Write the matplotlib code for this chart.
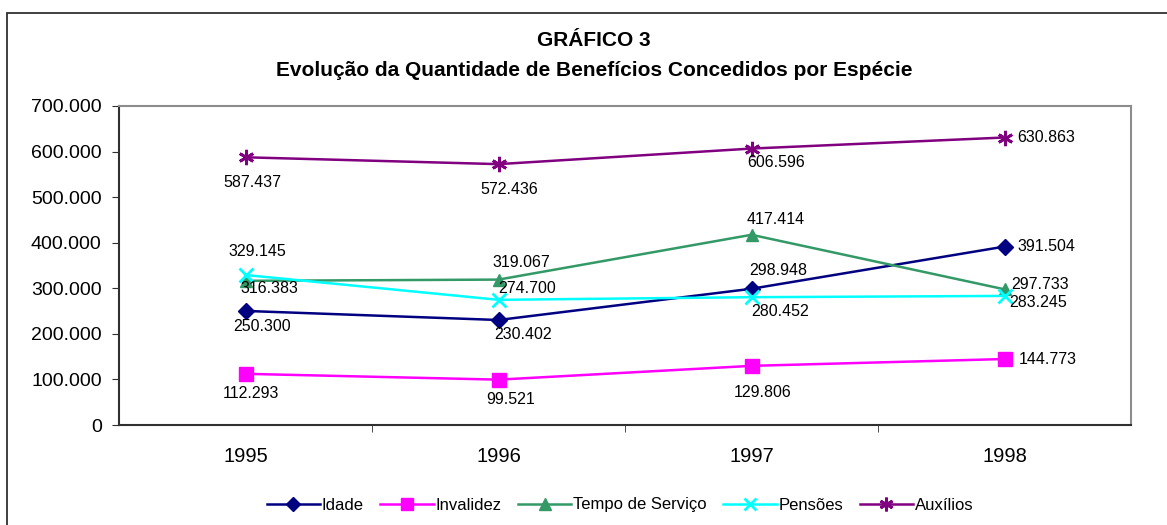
import matplotlib.pyplot as plt
from matplotlib.patches import Rectangle
from matplotlib.ticker import FuncFormatter, FixedLocator

years = ["1995", "1996", "1997", "1998"]
idade = [250300, 230402, 298948, 391504]
invalidez = [112293, 99521, 129806, 144773]
tempo_servico = [316383, 319067, 417414, 297733]
pensoes = [329145, 274700, 280452, 283245]
auxilios = [587437, 572436, 606596, 630863]

# label offsets in pixels from each marker (dx right, dy down)
series = [
    ("Idade", idade, "#000080", "D", 8,
     [(17, 16), (25, 14), (27, -18), (42, 0)]),
    ("Invalidez", invalidez, "#FF00FF", "s", 10,
     [(5, 20), (12, 20), (11, 27), (43, 0)]),
    ("Tempo de Serviço", tempo_servico, "#339966", "^", 9,
     [(24, 8), (23, -17), (24, -15), (36, -5)]),
    ("Pensões", pensoes, "#00FFFF", "x", 10,
     [(12, -24), (29, -11), (29, 14), (34, 7)]),
    ("Auxílios", auxilios, "#800080", (6, 2, 0), 11,
     [(7, 25), (11, 25), (25, 14), (42, 0)]),
]

plt.rcParams["font.family"] = ["Liberation Sans", "DejaVu Sans"]
narrow = ["Liberation Sans Narrow", "Liberation Sans", "DejaVu Sans"]

fig = plt.figure(figsize=(11.67, 5.25), dpi=100)
ax = fig.add_axes([119 / 1167, 1 - 425 / 525, (1131 - 119) / 1167, (425 - 106) / 525])

x = list(range(len(years)))
for name, vals, color, marker, ms, offs in series:
    ax.plot(x, vals, color=color, lw=1.8, marker=marker, ms=ms,
            mew=2 if marker in ("x",) or isinstance(marker, tuple) else 1,
            mfc=color, mec=color, label=name)
    for xi, v, (dx, dy) in zip(x, vals, offs):
        ax.annotate(f"{v:,}".replace(",", "."), (xi, v), xytext=(dx, -dy),
                    textcoords="offset pixels", ha="center", va="center",
                    fontsize=11.5, color="black")

ax.set_xlim(-0.5, len(years) - 0.5)
ax.set_ylim(0, 700000)
ax.set_yticks(range(0, 700001, 100000))
ax.yaxis.set_major_formatter(FuncFormatter(lambda v, p: f"{v:,.0f}".replace(",", ".")))
ax.set_xticks(x)
ax.set_xticklabels(years, family=narrow, fontsize=14.5)
ax.xaxis.set_minor_locator(FixedLocator([i + 0.5 for i in x[:-1]]))
ax.tick_params(axis="x", which="major", length=0, pad=16)
ax.tick_params(axis="x", which="minor", length=5, direction="out", color="#303030")
ax.tick_params(axis="y", length=5, direction="out", labelsize=14, color="#303030", pad=7.5)

for side in ("top", "right"):
    ax.spines[side].set_color("#8c8c8c")
    ax.spines[side].set_linewidth(1.5)
for side in ("left", "bottom"):
    ax.spines[side].set_color("#303030")
    ax.spines[side].set_linewidth(1.5)

fig.text(594 / 1167, 1 - 41 / 525, "GRÁFICO 3", ha="center", va="center",
         fontsize=15, fontweight="bold")
fig.text(594 / 1167, 1 - 71 / 525,
         "Evolução da Quantidade de Benefícios Concedidos por Espécie",
         ha="center", va="center", fontsize=15, fontweight="bold")

fig.legend(loc="center", bbox_to_anchor=(620 / 1167, 1 - 505 / 525), ncol=5,
           frameon=False, prop={"family": narrow, "size": 12},
           handlelength=3.2, handletextpad=0.1, columnspacing=1.0,
           markerscale=0.9)

fig.add_artist(Rectangle((7 / 1167, -0.1), 1.2, 0.1 + 1 - 13 / 525,
                         transform=fig.transFigure, fill=False,
                         edgecolor="#303030", lw=1.3))

fig.savefig("out.png", dpi=100)
